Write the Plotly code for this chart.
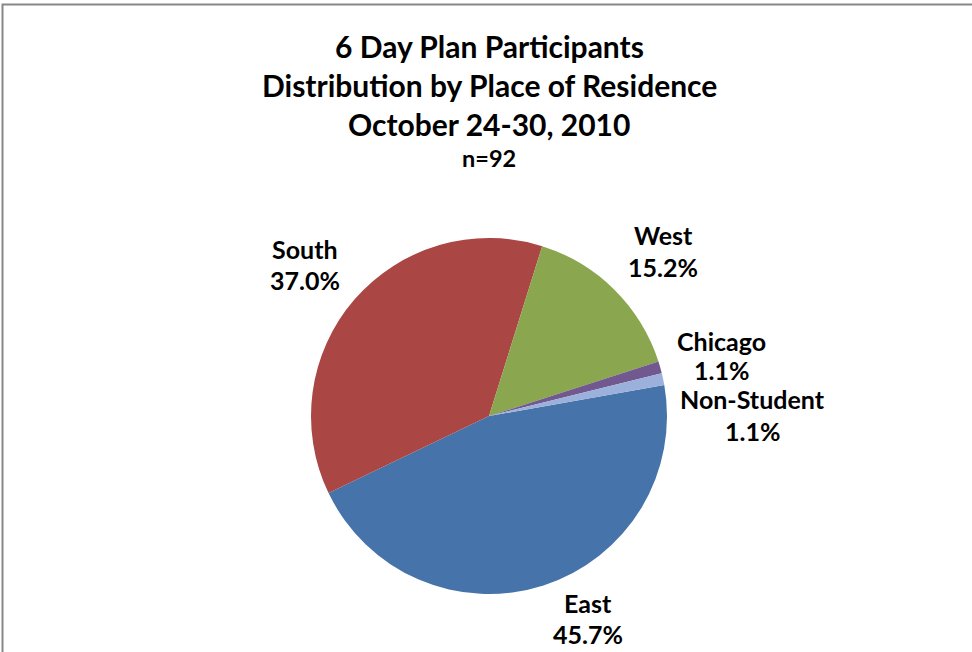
import plotly.graph_objects as go

# Participants by place of residence (n=92)
regions = ["East", "South", "West", "Chicago", "Non-Student"]
counts = [42, 34, 14, 1, 1]
colors = ["#4674AA", "#AA4644", "#8AA64F", "#71588F", "#9BB0DA"]

title_lines = ["6 Day Plan Participants",
               "Distribution by Place of Residence",
               "October 24-30, 2010"]

W, H = 972, 652
FONT = "Lato"

total = sum(counts)

fig = go.Figure()

cx, cy, r = 489, 416, 178
fig.add_trace(go.Pie(
    labels=regions,
    values=counts,
    marker=dict(colors=colors, line=dict(width=0)),
    sort=False,
    direction="clockwise",
    rotation=80,
    textinfo="none",
    hoverinfo="label+percent",
    showlegend=False,
    domain=dict(x=[(cx - r) / W, (cx + r) / W],
                y=[(H - cy - r) / H, (H - cy + r) / H]),
))


def px_ann(x, y, text, size):
    fig.add_annotation(
        x=x / W, y=1 - y / H, xref="paper", yref="paper",
        text=text, showarrow=False, xanchor="center", yanchor="middle",
        borderpad=0,
        font=dict(family=FONT, size=size, color="#000000"),
    )


# Title block
for i, line in enumerate(title_lines):
    px_ann(489, 46 + 39 * i, "<b>%s</b>" % line, 30)
px_ann(489, 158, "<b>n=%d</b>" % total, 23.5)

# Data labels: name on the first line, share on the second
label_pos = {
    "East": (588, 603, 634),
    "South": (305, 249, 280),
    "West": (663, 235, 267),
    "Chicago": (721, 341, 370),
    "Non-Student": (752, 399, 431),
}
for name, n in zip(regions, counts):
    x, y1, y2 = label_pos[name]
    px_ann(x, y1, "<b>%s</b>" % name, 25)
    px_ann(x, y2, "<b>%.1f%%</b>" % (100.0 * n / total), 25)

# Chart-area frame
fig.add_shape(type="rect", xref="paper", yref="paper",
              x0=2.5 / W, x1=1.02, y0=-0.02, y1=1 - 4.5 / H,
              line=dict(color="#878787", width=2))

fig.update_layout(
    width=W, height=H,
    margin=dict(l=0, r=0, t=0, b=0),
    paper_bgcolor="white",
    plot_bgcolor="white",
)

fig.write_html("out.html")
